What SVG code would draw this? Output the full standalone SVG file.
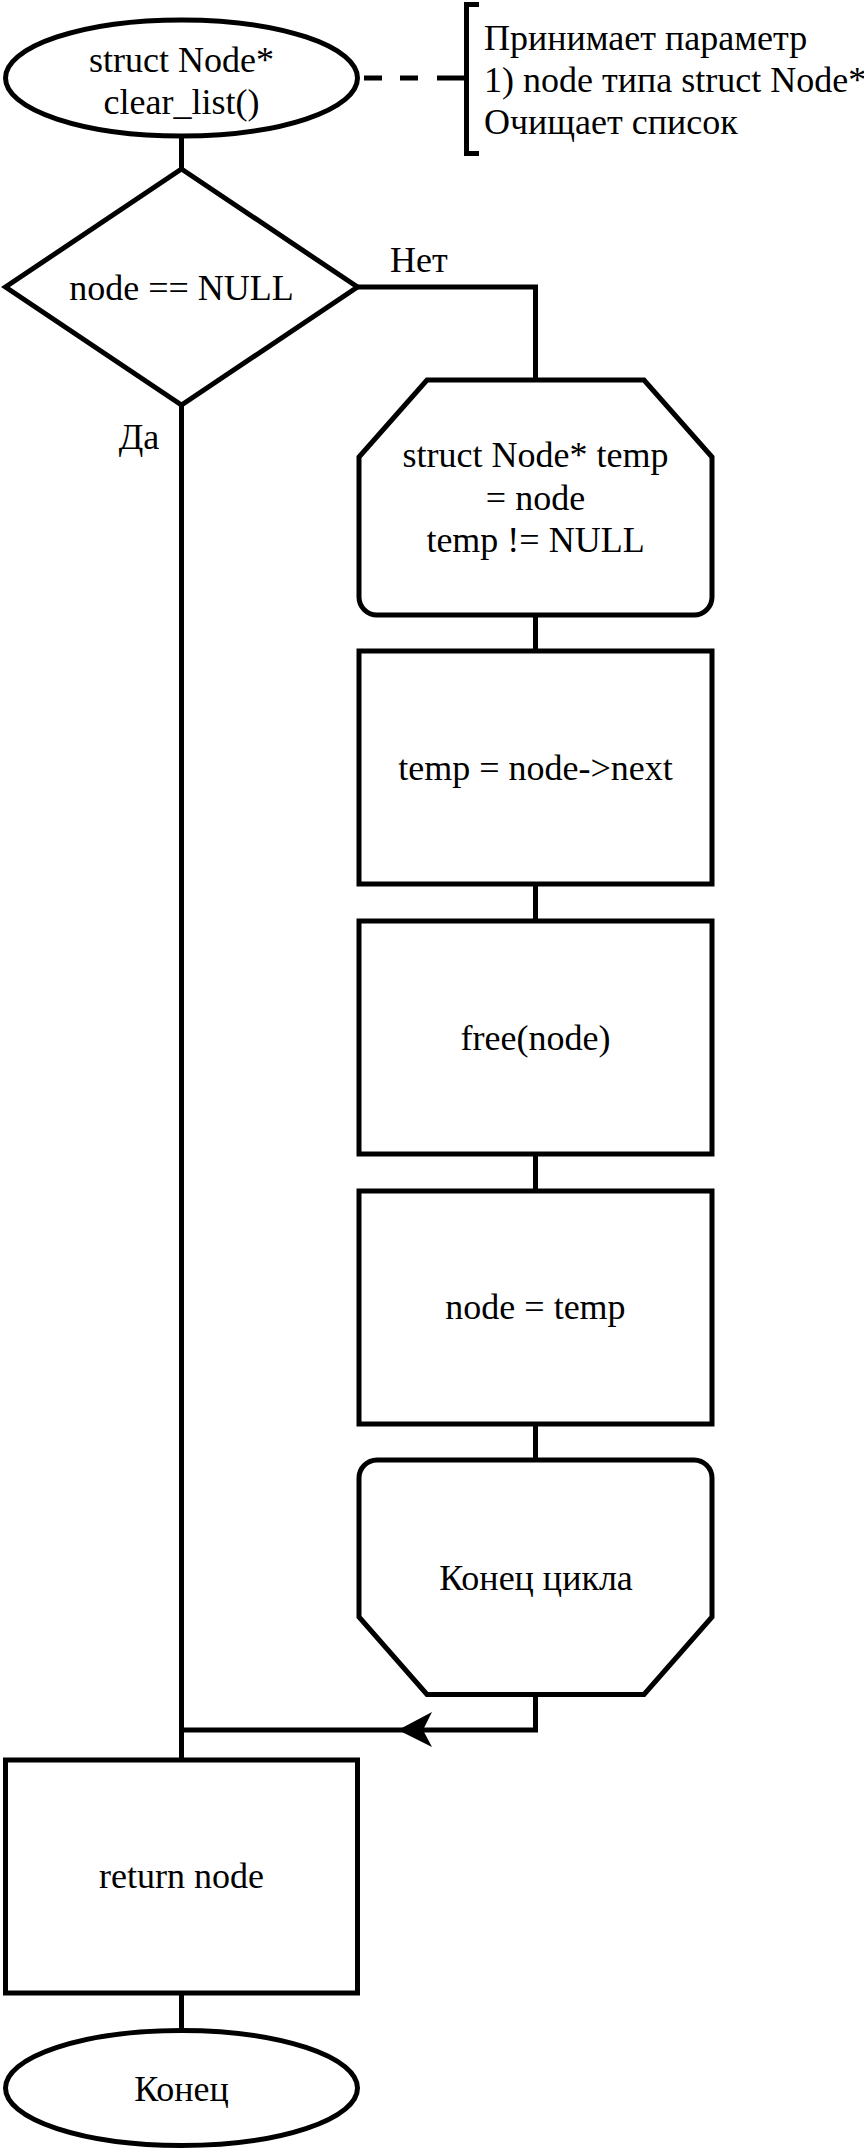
<svg xmlns="http://www.w3.org/2000/svg" width="864" height="2151" viewBox="0 0 864 2151">
<style>
.s{fill:#fff;stroke:#000;stroke-width:5;stroke-miterlimit:10}
.c{fill:none;stroke:#000;stroke-width:5;stroke-miterlimit:10}
.m{text-anchor:middle}
</style>
<rect width="864" height="2151" fill="#fff"/>
<g font-family="'Liberation Serif', 'DejaVu Serif', serif" font-size="36" fill="#000">
<g id="connectors">
<path class="c" d="M181.5,136V169"/>
<path class="c" d="M357.5,287H535.5V380"/>
<path class="c" d="M181.5,405V1760"/>
<path class="c" d="M535.5,615V651"/>
<path class="c" d="M535.5,884V921"/>
<path class="c" d="M535.5,1154V1191"/>
<path class="c" d="M535.5,1424V1460"/>
<path class="c" d="M535.5,1694.5V1730H181.5"/>
<polygon points="398,1730 432,1712 423,1730 432,1747" fill="#000"/>
<path class="c" d="M181.5,1993V2030"/>
<path class="c" d="M364,78H382M400,78H418M437,78H466"/>
<text x="390" y="272">Нет</text>
<text x="139" y="449" class="m">Да</text>
</g>
<g id="start">
<ellipse class="s" cx="181.5" cy="78" rx="176" ry="58"/>
<text class="m" x="181.5" y="72">struct Node*</text>
<text class="m" x="181.5" y="114">clear_list()</text>
</g>
<g id="comment">
<path class="c" d="M479,4.5H466.5V153.5H479"/>
<text x="484" y="50">Принимает параметр</text>
<text x="484" y="92">1) node типа struct Node*</text>
<text x="484" y="134">Очищает список</text>
</g>
<g id="decision">
<polygon class="s" points="181.5,169 357.5,287 181.5,405 5.5,287"/>
<text class="m" x="181.5" y="300">node == NULL</text>
</g>
<g id="loop_start">
<path class="s" d="M427,380H644L712,457V597A18,18 0 0 1 694,615H377A18,18 0 0 1 359,597V457Z"/>
<text class="m" x="535.5" y="467">struct Node* temp</text>
<text class="m" x="535.5" y="509.5">= node</text>
<text class="m" x="535.5" y="552">temp != NULL</text>
</g>
<g id="step1">
<rect class="s" x="359" y="651" width="353" height="233"/>
<text class="m" x="535.5" y="780">temp = node-&gt;next</text>
</g>
<g id="step2">
<rect class="s" x="359" y="921" width="353" height="233"/>
<text class="m" x="535.5" y="1050">free(node)</text>
</g>
<g id="step3">
<rect class="s" x="359" y="1191" width="353" height="233"/>
<text class="m" x="535.5" y="1319">node = temp</text>
</g>
<g id="loop_end">
<path class="s" d="M359,1478A18,18 0 0 1 377,1460H694A18,18 0 0 1 712,1478V1617L644,1694.5H427L359,1617Z"/>
<text class="m" x="536" y="1590">Конец цикла</text>
</g>
<g id="return">
<rect class="s" x="5.5" y="1760" width="352" height="233"/>
<text class="m" x="181.5" y="1888">return node</text>
</g>
<g id="end">
<ellipse class="s" cx="181.5" cy="2088" rx="176" ry="57.5"/>
<text class="m" x="181.5" y="2101">Конец</text>
</g>
</g>
</svg>
